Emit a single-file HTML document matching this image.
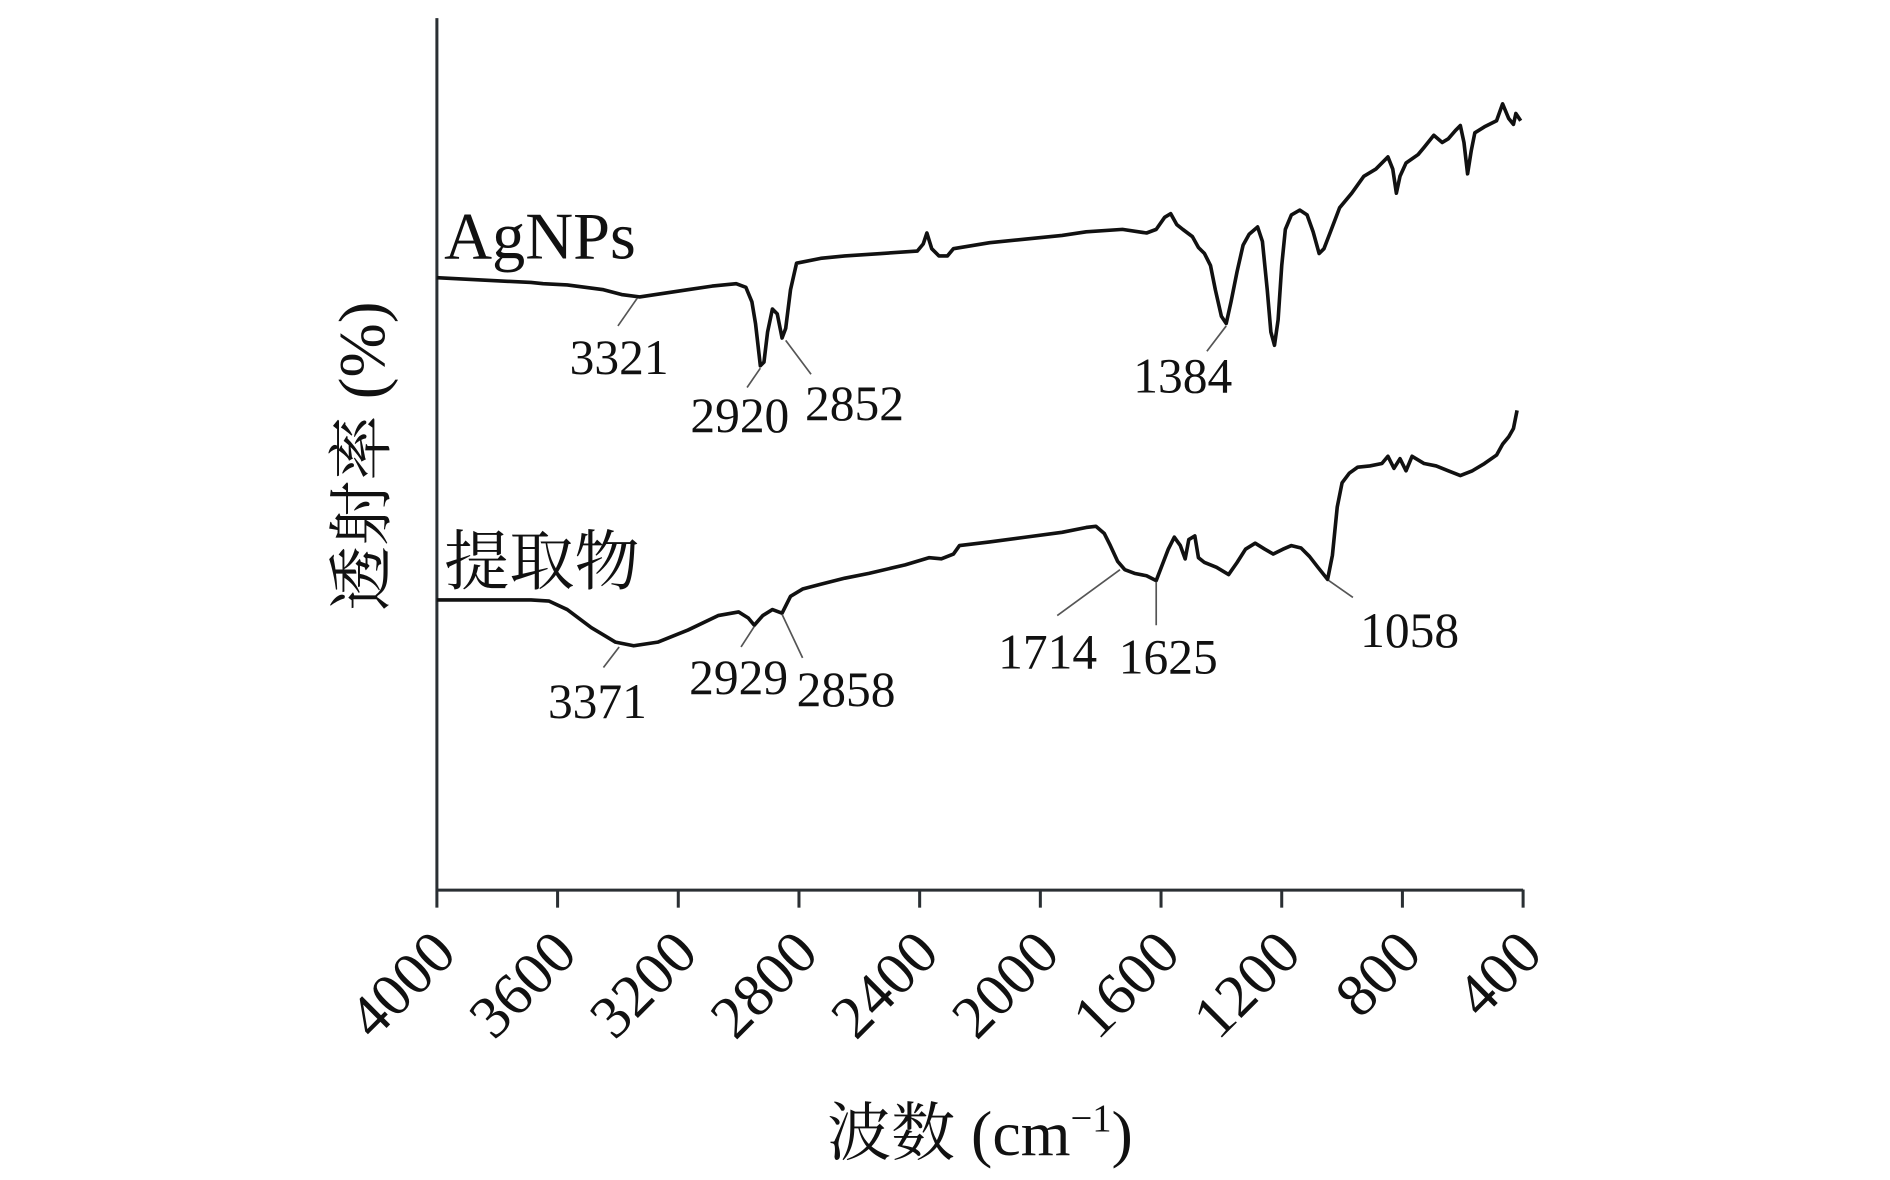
<!DOCTYPE html>
<html><head><meta charset="utf-8"><style>
html,body{margin:0;padding:0;background:#fff;width:1890px;height:1180px;overflow:hidden}
svg{display:block}
text{font-family:"Liberation Serif","Noto Serif CJK SC","Noto Sans CJK SC",serif;fill:#111}
</style></head><body>
<svg width="1890" height="1180" viewBox="0 0 1566 977.6" xmlns="http://www.w3.org/2000/svg">
<g stroke="#2a2f33" stroke-width="2.5" fill="none">
<line x1="362" y1="15" x2="362" y2="752"/>
<line x1="362" y1="737.5" x2="1262" y2="737.5"/>
<line x1="462" y1="737" x2="462" y2="752"/>
<line x1="562" y1="737" x2="562" y2="752"/>
<line x1="662" y1="737" x2="662" y2="752"/>
<line x1="762" y1="737" x2="762" y2="752"/>
<line x1="862" y1="737" x2="862" y2="752"/>
<line x1="962" y1="737" x2="962" y2="752"/>
<line x1="1062" y1="737" x2="1062" y2="752"/>
<line x1="1162" y1="737" x2="1162" y2="752"/>
<line x1="1262" y1="737" x2="1262" y2="752"/>
</g>
<g stroke="#111" stroke-width="3" fill="none" stroke-linejoin="round">
<polyline points="362,230 380,231 400,232 420,233 440,234 450,235 470,236 500,240 515,244 530,246 550,243 570,240 590,237 610,235 618,238 623,250 626,268 630,303 633,300 636,275 640,256 644,260 648,280 651,272 655,240 660,218 680,214 700,212 730,210 760,208 765,202 768,193 772,206 778,212 785,212 790,206 820,201 850,198 880,195 900,192 930,190 950,193 958,190 965,180 970,177 975,186 980,190 988,196 993,205 998,210 1003,220 1007,240 1012,262 1016,268 1020,250 1025,225 1030,203 1035,194 1042,188 1046,200 1050,240 1053,275 1056,286 1059,265 1062,220 1065,190 1070,178 1077,174 1083,178 1088,192 1093,210 1097,206 1102,193 1110,172 1120,160 1130,146 1140,140 1150,130 1154,140 1157,160 1160,146 1165,135 1175,128 1180,122 1188,112 1195,118 1200,115 1206,108 1210,104 1213,118 1216,144 1219,125 1222,110 1230,105 1240,100 1245,86 1250,98 1254,103 1256,94 1260,100"/>
<polyline points="362,497 400,497 440,497 455,498 470,505 490,520 510,532 525,535 545,532 570,522 595,510 612,507 620,512 625,518 632,510 640,505 648,508 655,494 665,488 680,484 700,479 720,475 750,468 770,462 780,463 790,459 795,452 820,449 850,445 880,441 900,437 908,436 915,442 920,452 926,465 932,472 940,475 950,477 958,481 963,468 968,455 973,445 978,452 982,463 985,447 990,444 993,462 998,466 1008,470 1018,476 1025,466 1032,455 1040,450 1048,455 1055,459 1063,455 1070,452 1078,454 1085,461 1092,470 1100,480 1104,460 1108,420 1112,400 1118,392 1125,387 1135,386 1145,384 1150,378 1155,388 1160,380 1165,390 1170,378 1180,384 1190,386 1200,390 1210,394 1220,390 1230,384 1240,377 1245,368 1250,362 1254,355 1257,340"/>
</g>
<g stroke="#555" stroke-width="1.4">
<line x1="528" y1="247" x2="512" y2="270"/>
<line x1="630" y1="305" x2="619" y2="321"/>
<line x1="651" y1="282" x2="672" y2="310"/>
<line x1="1016" y1="270" x2="1000" y2="291"/>
<line x1="513" y1="536" x2="500" y2="553"/>
<line x1="625" y1="519" x2="614" y2="536"/>
<line x1="648" y1="509" x2="665" y2="545"/>
<line x1="928" y1="472" x2="876" y2="510"/>
<line x1="958" y1="482" x2="958" y2="518"/>
<line x1="1101" y1="481" x2="1121" y2="495"/>
</g>
<g font-size="41" text-anchor="middle">
<text x="513" y="310">3321</text>
<text x="613" y="358">2920</text>
<text x="708" y="348">2852</text>
<text x="980" y="325">1384</text>
<text x="495" y="595">3371</text>
<text x="612" y="575">2929</text>
<text x="701" y="585">2858</text>
<text x="868" y="554">1714</text>
<text x="968" y="558">1625</text>
<text x="1168" y="536">1058</text>
</g>
<text x="368" y="214" font-size="55">AgNPs</text>
<text x="368" y="484" font-size="54">提取物</text>
<g font-size="50" text-anchor="end">
<text transform="translate(380,792) rotate(-45)">4000</text>
<text transform="translate(480,792) rotate(-45)">3600</text>
<text transform="translate(580,792) rotate(-45)">3200</text>
<text transform="translate(680,792) rotate(-45)">2800</text>
<text transform="translate(780,792) rotate(-45)">2400</text>
<text transform="translate(880,792) rotate(-45)">2000</text>
<text transform="translate(980,792) rotate(-45)">1600</text>
<text transform="translate(1080,792) rotate(-45)">1200</text>
<text transform="translate(1180,792) rotate(-45)">800</text>
<text transform="translate(1280,792) rotate(-45)">400</text>
</g>
<text x="812" y="957" font-size="53" text-anchor="middle">波数 (cm<tspan font-size="32" dy="-20">−1</tspan><tspan dy="20">)</tspan></text>
<text transform="translate(318,378) rotate(-90)" font-size="54" text-anchor="middle">透射率 (%)</text>
</svg>
</body></html>
